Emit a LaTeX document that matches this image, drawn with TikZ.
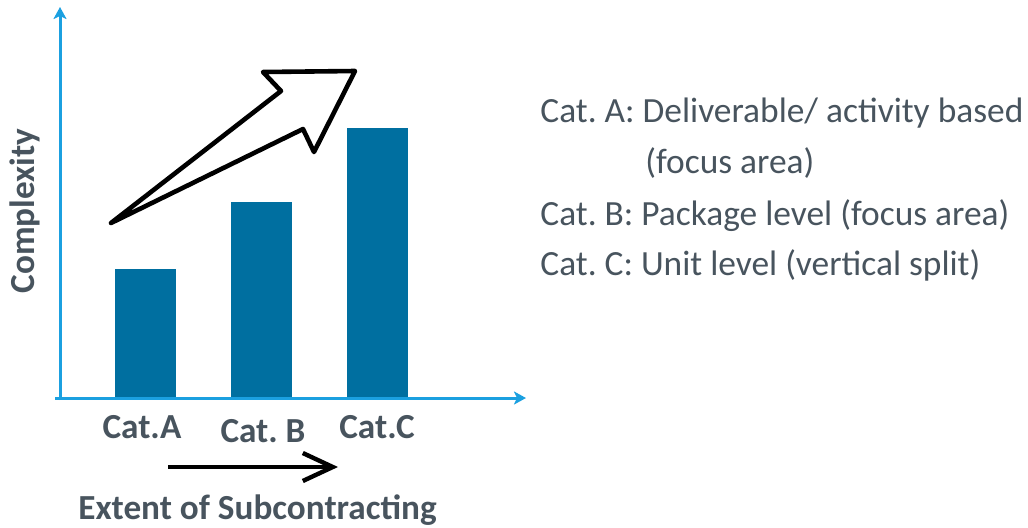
\documentclass[tikz,border=0pt]{standalone}
\usepackage{amsmath, tikz, tkz-euclide, xcolor}
\usepackage{fontspec}
\setmainfont{Carlito}
\usetikzlibrary{arrows.meta}
\frenchspacing

\definecolor{axisblue}{RGB}{27,160,224}
\definecolor{barblue}{RGB}{0,111,160}
\definecolor{textgray}{RGB}{72,84,94}

\begin{document}
\begin{tikzpicture}[x=0.5pt,y=-0.5pt,
    axis/.style={axisblue, line width=1.5pt, -{Stealth[length=6pt,width=6.5pt,inset=1.5pt]}},
    catlabel/.style={textgray, font=\fontsize{17.6}{20}\selectfont\bfseries, inner sep=0pt},
    legend/.style={textgray, font=\fontsize{17.7}{21}\selectfont, anchor=base west, inner sep=0pt}]
    \useasboundingbox (0,0) rectangle (1028,527);
    \tkzDefPoints{55/398/O, 526/398/X, 60/400/P, 60/7/Y}
    \tkzDefPoints{111/223/T, 281/91/U, 263/72/V, 355/71/W, 314/152/R, 303/129/S}
    \tkzDefPoints{168/467/E1, 338/467/E2}
    % bars
    \foreach \x/\h in {115/269, 231/202, 347/128}
        \fill[barblue] (\x,398) rectangle ({\x+61},\h);
    % axes
    \draw[axis] (O) -- (X);
    \draw[axis] (P) -- (Y);
    % hollow arrow
    \tkzDrawPolygon[color=black, line width=2.3pt, line join=round](T,U,V,W,R,S)
    \draw[line width=2.2pt, -{Straight Barb[length=15pt,width=14pt]}] (E1) -- (E2);
    % labels
    \node[catlabel, anchor=base] (catA) at (142,438) {Cat.A};
    \node[catlabel, anchor=base] (catB) at (263,442) {Cat. B};
    \node[catlabel, anchor=base] (catC) at (377,438) {Cat.C};
    \node[catlabel, anchor=base west] (extent) at (78,519) {Extent of Subcontracting};
    \node[catlabel, rotate=90, anchor=base] (complexity) at (34,211) {Complexity};
    % legend
    \node[legend] (legA) at (540,122) {Cat. A: Deliverable/ activity based};
    \node[legend] (legA2) at (645,173.5) {(focus area)};
    \node[legend] (legB) at (540,225) {Cat. B: Package level (focus area)};
    \node[legend] (legC) at (540,275) {Cat. C: Unit level (vertical split)};
\end{tikzpicture}
\end{document}
